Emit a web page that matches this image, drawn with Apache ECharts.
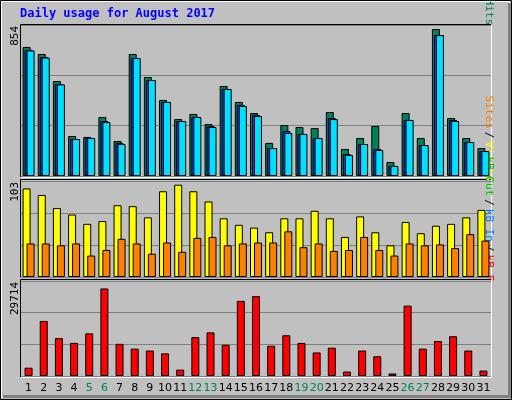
<!DOCTYPE html>
<html><head><meta charset="utf-8">
<script src="https://cdn.jsdelivr.net/npm/echarts@6/dist/echarts.min.js"></script>
<style>html,body{margin:0;padding:0;background:#c0c0c0}#c{width:512px;height:400px}</style>
</head><body><div id="c"></div>
<script>
const days = Array.from({length:31},(_,i)=>String(i+1));
const weekend = ['5','6','12','13','19','20','26','27'];
const hits  = [730,690,537,226,221,334,198,690,560,430,322,351,294,509,419,356,187,288,277,271,362,153,215,283,79,356,215,831,328,215,158];
const files = [713,673,520,209,215,311,187,667,543,419,311,334,283,492,402,345,158,255,238,215,328,124,181,153,57,317,175,797,317,192,141];
const pages = [710,670,518,209,215,305,181,667,543,419,311,334,277,492,396,339,158,243,238,215,322,119,181,147,57,317,175,797,311,192,141];
const visits= [95,88,74,67,57,60,77,76,64,92,99,92,81,63,56,53,48,63,63,71,63,43,65,48,34,59,47,55,57,64,72];
const sites = [36,36,34,36,23,29,41,36,25,37,27,42,43,34,36,37,37,49,32,36,28,29,43,29,23,36,34,35,31,46,39];
const kbf   = [2588,17222,11846,10353,13340,27376,10055,8561,7964,7068,1991,12145,13638,9756,23494,24987,9457,12742,10353,7367,8860,1394,7964,6172,796,22000,8561,10951,12444,7964,1692];
const maxTop=854, maxMid=103, maxBot=29714;

const L=21, R=21;
const grids=[{left:L,right:R,top:25,height:151},{left:L,right:R,top:181,height:96},{left:L,right:R,top:281,height:95}];
function xa(i,show){return {type:'category',gridIndex:i,data:days,axisLine:{show:false},axisTick:{show:false},
 axisLabel:{show:show,interval:0,margin:7,fontFamily:'DejaVu Sans',fontSize:11,
 color:(v)=>weekend.includes(v)?'#00805c':'#000'}};}
function ya(i,max){return {type:'value',gridIndex:i,min:0,max:max,interval:max/3,axisLabel:{show:false},axisLine:{show:false},axisTick:{show:false},
 splitLine:{lineStyle:{color:'#808080',width:1}}};}
const bs={borderColor:'#000',borderWidth:1};
function bar(name,data,idx,color,w,gap){return {type:'bar',name,data,xAxisIndex:idx,yAxisIndex:idx,barWidth:w,barGap:gap,
 itemStyle:Object.assign({color},bs),animation:false,silent:true};}

function frame(x,y,w,h){return [
 {type:'line',shape:{x1:x,y1:y,x2:x+w,y2:y},style:{stroke:'#000',lineWidth:1}},
 {type:'line',shape:{x1:x,y1:y,x2:x,y2:y+h},style:{stroke:'#000',lineWidth:1}},
 {type:'line',shape:{x1:x,y1:y+h,x2:x+w,y2:y+h},style:{stroke:'#fff',lineWidth:1}},
 {type:'line',shape:{x1:x+w,y1:y,x2:x+w,y2:y+h},style:{stroke:'#fff',lineWidth:1}}];}
function vt(x,y,rich,text){return {type:'text',x:x,y:y,rotation:Math.PI/2,
 style:{text:text,rich:rich,font:'11px DejaVu Sans Mono',fill:'#000',align:'right',verticalAlign:'middle'}};}
const g=[
 {type:'rect',shape:{x:0.5,y:0.5,width:511,height:399},style:{fill:'none',stroke:'#000',lineWidth:1}},
 {type:'rect',shape:{x:1.5,y:1.5,width:508,height:396},style:{fill:'none',stroke:'#fff',lineWidth:1}},
 {type:'rect',shape:{x:3,y:395,width:508,height:3},style:{fill:'#808080'}},
 {type:'rect',shape:{x:508,y:3,width:3,height:395},style:{fill:'#808080'}},
 {type:'text',x:20,y:8,style:{text:'Daily usage for August 2017',font:'bold 12px DejaVu Sans Mono',fill:'#0000ff'}},
 ...frame(20.5,24.5,471,153),...frame(20.5,179.5,471,98),...frame(20.5,279.5,471,98),
 vt(15,26,{},'854'),vt(15,182,{},'103'),vt(15,282,{},'29714'),
 {type:'text',x:494,y:25,rotation:-Math.PI/2,style:{text:'{a|Pages}{k|/}{b|Files}{k|/}{c|Hits}',align:'right',verticalAlign:'top',
  rich:{a:{fill:'#00e0ff',font:'11px DejaVu Sans Mono'},k:{fill:'#000',font:'11px DejaVu Sans Mono',padding:[0,3]},b:{fill:'#0040ff',font:'11px DejaVu Sans Mono'},c:{fill:'#00805c',font:'11px DejaVu Sans Mono'}}}},
 {type:'text',x:494,y:181,rotation:-Math.PI/2,style:{text:'{a|Sites}{k|/}{b|Visits}',align:'right',verticalAlign:'top',
  rich:{a:{fill:'#ff8000',font:'11px DejaVu Sans Mono'},k:{fill:'#000',font:'11px DejaVu Sans Mono',padding:[0,3]},b:{fill:'#ffff00',font:'11px DejaVu Sans Mono'}}}},
 {type:'text',x:494,y:281,rotation:-Math.PI/2,style:{text:'{a|kB Out}{k|/}{b|kB In}{k|/}{c|kB F}',align:'right',verticalAlign:'top',
  rich:{a:{fill:'#00c000',font:'11px DejaVu Sans Mono'},k:{fill:'#000',font:'11px DejaVu Sans Mono',padding:[0,3]},b:{fill:'#0080ff',font:'11px DejaVu Sans Mono'},c:{fill:'#ff0000',font:'11px DejaVu Sans Mono'}}}}
];
const chart=echarts.init(document.getElementById('c'));
chart.setOption({animation:false,backgroundColor:'#c0c0c0',grid:grids,
 xAxis:[xa(0,false),xa(1,false),xa(2,true)],
 yAxis:[ya(0,maxTop),ya(1,maxMid),ya(2,maxBot)],
 series:[bar('Hits',hits,0,'#00805c',8,'-75%'),bar('Files',files,0,'#0040ff',8,'-75%'),bar('Pages',pages,0,'#00e0ff',8,'-75%'),
  bar('Visits',visits,1,'#ffff00',8,'-50%'),bar('Sites',sites,1,'#ff8000',8,'-50%'),
  bar('kB F',kbf,2,'#ff0000',8,'0%')],
 graphic:g});
</script></body></html>
